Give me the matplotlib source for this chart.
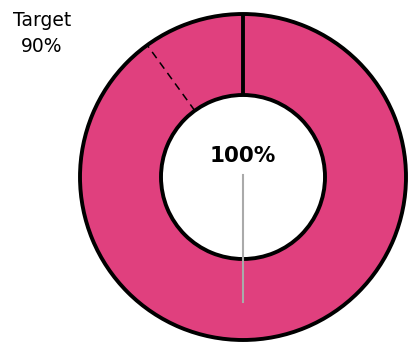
import numpy as np
import matplotlib.pyplot as plt

value = 100      # percent achieved
target = 90      # percent target
target_label = 'Target'

fig = plt.figure(figsize=(4.09, 3.43), dpi=100)
ax = fig.add_axes([0, 0, 1, 1])

cx, cy = 243, 166
r_out, r_in = 163, 82

ax.pie([value, 100 - value], colors=['#E0407E', 'white'], startangle=90, counterclock=False,
       center=(cx, cy), radius=r_out, frame=True,
       wedgeprops=dict(width=r_out - r_in, edgecolor='black', linewidth=2.8))
ax.set_xlim(0, 409)
ax.set_ylim(0, 343)
ax.set_aspect('equal')
ax.axis('off')

# target marker (clockwise from top)
ang = np.deg2rad(90 - 360 * target / 100)
ax.plot([cx + r_in * np.cos(ang), cx + r_out * np.cos(ang)],
        [cy + r_in * np.sin(ang), cy + r_out * np.sin(ang)],
        color='black', lw=1.1, ls=(0, (5, 3.5)), zorder=5)

# needle
ax.plot([cx, cx], [cy + 2, cy - 125], color='#aaaaaa', lw=1.5, zorder=6)

ax.text(cx, 343 - 156, f'{value}%', ha='center', va='center', fontsize=15.5, fontweight='bold')
ax.text(42, 343 - 21, target_label, ha='center', va='center', fontsize=13.5)
ax.text(42, 343 - 46, f'{target}%', ha='center', va='center', fontsize=13.5)

fig.savefig('out.png', dpi=100)
